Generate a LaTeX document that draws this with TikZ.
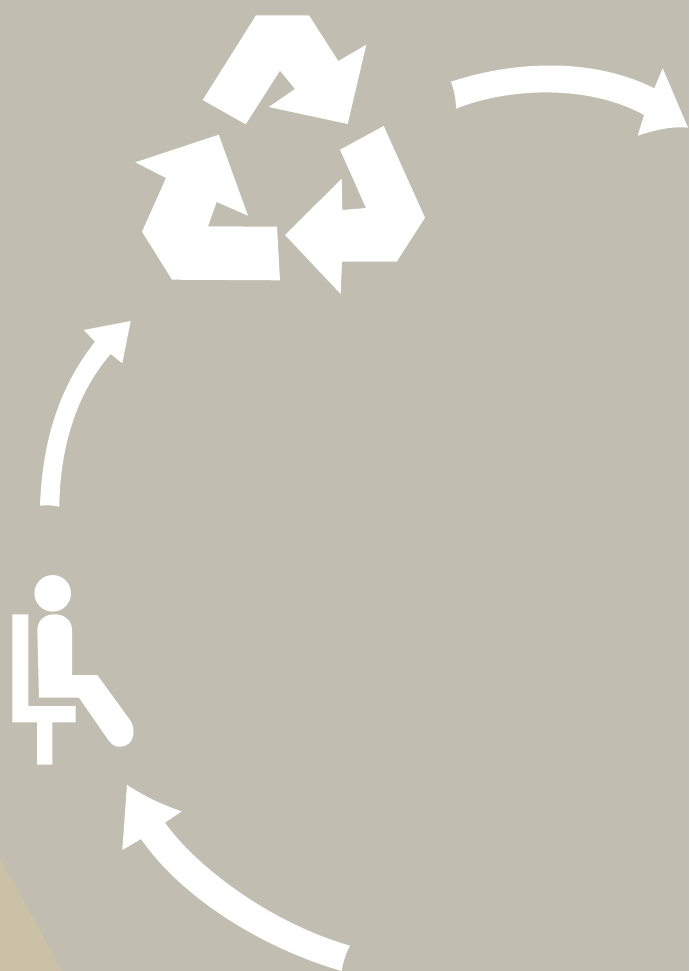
\documentclass[tikz,border=0pt]{standalone}
\definecolor{bgc}{HTML}{C1BDB0}
\definecolor{tanc}{HTML}{CBC1A7}
\tikzset{sym/.style={fill=white,draw=none}}
\begin{document}
\begin{tikzpicture}[x=1pt,y=-1pt]
\useasboundingbox (0,0) rectangle (689,971);
\fill[bgc] (0,0) rectangle (689,971);
% tan corner
\fill[tanc] (0,858) -- (62,971) -- (0,971) -- cycle;
% recycling symbol
\fill[sym] (256,15.3) -- (309,15.3) -- (338.3,61) -- (366.3,44.7) -- (347.7,124) -- (268.7,107) -- (295,89) -- (280,70.7) -- (245.7,124.3) -- (202.7,100) -- cycle;
\fill[sym] (383.7,126) -- (425,217.7) -- (396.7,261.7) -- (342,261.7) -- (340.7,294) -- (285,235) -- (341.7,178.7) -- (342.3,210) -- (366,208) -- (340,149.7) -- cycle;
\fill[sym] (135.3,162.3) -- (218.7,134.7) -- (248,215.7) -- (216.7,202) -- (208,226.3) -- (277,226.7) -- (280,280.3) -- (172,279.7) -- (142,231.7) -- (166,178) -- cycle;
% person
\fill[sym] (52.7,593.3) circle (18.3);
\fill[sym] (37.3,630) .. controls (37.3,620) and (45,614.3) .. (54.5,614.3) .. controls (64,614.3) and (72,620) .. (72,630) -- (72,675) -- (97.3,675) -- (130,720) .. controls (135,726) and (137,746) .. (120,746.7) .. controls (115,747) and (111,744) .. (108.3,740) -- (79,697.7) -- (39,697.7) -- cycle;
\fill[sym] (12.3,614.3) -- (28.3,614.3) -- (28.3,706) -- (75.7,706) -- (75.7,722.3) -- (52.3,722.3) -- (52.3,764.7) -- (37,764.7) -- (37,722.3) -- (12.3,722.3) -- cycle;
% curved arrows
\fill[sym] (451,81.7) .. controls (510,62) and (590,56) .. (654.3,88.3) -- (662.7,68.3) -- (688,127.7) .. controls (672,126) and (655,130) .. (637.7,135.7) -- (644,115) .. controls (590,85) and (510,87) .. (456,108.7) .. controls (456,100) and (454,90) .. (451,81.7) -- cycle;
\fill[sym] (130.7,321) -- (122.3,363.3) -- (110.7,354) .. controls (75,395) and (60,450) .. (59.3,506.7) .. controls (52,505) and (46,505) .. (40,505.7) .. controls (42,450) and (55,392) .. (95,341.7) -- (83.7,330) -- cycle;
\fill[sym] (127,784.7) .. controls (142,795) and (160,804) .. (181.7,811.3) -- (165,822.7) .. controls (195,865) and (268,922) .. (350,945.7) .. controls (346,953) and (343,962) .. (341.7,971) .. controls (262,948) and (182,898) .. (141,839) -- (122.3,850) -- cycle;
\end{tikzpicture}
\end{document}
